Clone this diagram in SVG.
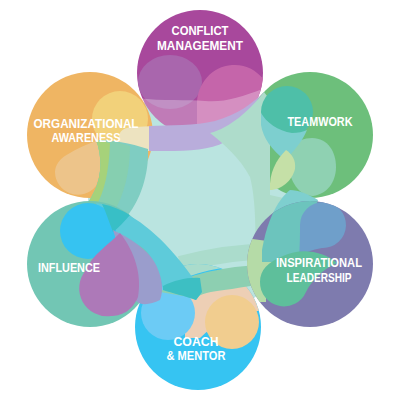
<svg xmlns="http://www.w3.org/2000/svg" width="400" height="400" viewBox="0 0 400 400">
<defs>
<style>
.lbl{font-family:"Liberation Sans",Arial,sans-serif;font-weight:bold;fill:#ffffff;font-size:12px;text-anchor:middle}
</style>
<clipPath id="cp-cm"><circle cx="200" cy="73" r="63"/></clipPath>
<clipPath id="cp-tw"><circle cx="310" cy="135" r="63"/></clipPath>
<clipPath id="cp-il"><circle cx="310" cy="264" r="63"/></clipPath>
<clipPath id="cp-co"><circle cx="198" cy="327" r="63"/></clipPath>
<clipPath id="cp-in"><circle cx="90" cy="264" r="63"/></clipPath>
<clipPath id="cp-oa"><circle cx="90" cy="135" r="63"/></clipPath>
</defs>
<rect width="400" height="400" fill="#ffffff"/>

<g id="center">
<circle cx="200" cy="200" r="112" fill="#bae4e0"/>
<path d="M180,264 Q240,248 300,252" fill="none" stroke="#abdccc" stroke-width="16"/>
</g>

<g id="node-oa">
<circle cx="90" cy="135" r="63" fill="#efb563"/>
<g clip-path="url(#cp-oa)">
<circle cx="120" cy="119" r="28" fill="#f2d17a"/>
<path d="M55,172 A23,23 0 0 0 96,186 C102,172 102,155 100,140 C92,142 80,147 70,153 C60,158 55,165 55,172 Z" fill="#edc48a"/>
<path d="M119,137 C119,131 124,127 135,127 L155,126 L155,151 L128,151 C122,151 119,145 119,137 Z" fill="#ede3c0"/>
</g>
<path d="M96,140 C102,155 102,175 95,190 C90,200 85,208 80,215 L128,215 C140,200 149,175 148,149 C130,143 112,140 96,140 Z" fill="#7fcdc2"/>
<path d="M96,140 C102,155 102,175 95,190 C90,200 85,208 80,215 L114,212 C124,195 130,172 130,146 C118,142 107,140 96,140 Z" fill="#86cfb0"/>
<path d="M96,140 C102,155 102,175 95,190 C90,200 85,208 80,215 L96,206 C104,193 109,172 110,143 Z" fill="#a6d27a"/>
<text class="lbl" x="86" y="128" textLength="105" lengthAdjust="spacingAndGlyphs">ORGANIZATIONAL</text>
<text class="lbl" x="86" y="142" textLength="69" lengthAdjust="spacingAndGlyphs">AWARENESS</text>
</g>

<g id="node-conflict">
<circle cx="200" cy="73" r="63" fill="#a8489c"/>
<g clip-path="url(#cp-cm)">
<ellipse cx="170" cy="82" rx="32" ry="27" fill="#a966ad"/>
<path d="M197,104 C197,84 212,66 232,65 C248,64 258,72 266,82 L266,125 L197,125 Z" fill="#c565aa"/>
<path d="M130,97 C160,102 185,99 205,101 C225,103 245,96 270,86 L270,140 L130,140 Z" fill="#ffffff" opacity="0.28"/>
</g>
<path d="M149,126 C170,125 195,126 215,121 C238,114 252,104 264,92 C258,110 245,130 225,142 C210,150 190,151 165,151 L149,151 Z" fill="#b9addb"/>
<text class="lbl" x="200" y="35" textLength="57" lengthAdjust="spacingAndGlyphs">CONFLICT</text>
<text class="lbl" x="200" y="50" textLength="86" lengthAdjust="spacingAndGlyphs">MANAGEMENT</text>
</g>

<g id="node-teamwork">
<circle cx="310" cy="135" r="63" fill="#6dbf7b"/>
<path d="M210,133 C230,128 250,110 264,92 L270,100 L270,195 L292,200 L292,266 L255,266 C256,235 256,200 250,177 C240,158 225,145 210,133 Z" fill="#aedccb"/>
<g clip-path="url(#cp-tw)">
<path d="M288,165 C286,150 296,138 312,138 C328,138 336,152 336,167 C336,182 327,194 313,196 C298,196 290,180 288,165 Z" fill="#8fd1b2"/>
<circle cx="287" cy="112" r="26" fill="#4ebfa8"/>
<path d="M261,113 C266,122 278,131 292,133 C298,133 303,132 307,130 C302,142 293,152 285,160 C272,150 263,138 261,125 Z" fill="#7dcfcf"/>
</g>
<path d="M286,150 C276,160 269,173 270,190 C281,190 292,181 295,169 C296,160 292,154 286,150 Z" fill="#c5e0a7"/>
<path d="M290,190 C280,198 268,215 262,250 L262,262 L300,262 L318,200 C308,194 298,190 290,190 Z" fill="#7ecfcf"/>
<text class="lbl" x="320" y="126" textLength="65" lengthAdjust="spacingAndGlyphs">TEAMWORK</text>
</g>

<g id="node-coach">
<circle cx="198" cy="327" r="63" fill="#36c4f2"/>
<g clip-path="url(#cp-co)">
<path d="M168,250 L275,250 L275,266 C250,264 222,267 203,272 C188,276 176,281 168,286 Z" fill="#aadccc"/>
<path d="M185,286 L265,280 L265,310 C240,312 215,322 200,338 L185,338 Z" fill="#edcfb5"/>
<circle cx="168" cy="313" r="27" fill="#6ccbf5"/>
<circle cx="232" cy="322" r="27" fill="#f1cd8f"/>
</g>
<path d="M160,292 C175,280 200,272 235,267 L290,262 L296,282 C275,283 255,285 232,289 C215,291 205,292 195,298 C183,296 172,294 160,292 Z" fill="#8dcfb1"/>
<text class="lbl" x="196" y="346" textLength="45" lengthAdjust="spacingAndGlyphs">COACH</text>
<text class="lbl" x="196" y="360" textLength="59" lengthAdjust="spacingAndGlyphs">&amp; MENTOR</text>
</g>

<g id="node-il">
<circle cx="310" cy="264" r="63" fill="#7e7bae"/>
<g clip-path="url(#cp-il)">
<path d="M245,238 L282,243 C270,262 266,280 266,302 L245,302 Z" fill="#b5dba7"/>
<path d="M290,190 C280,198 268,215 262,250 L262,262 L300,262 L318,200 C308,194 298,190 290,190 Z" fill="#6cc4bd"/>
<path d="M299,258 C300,245 300,235 300,225 A23,23 0 1 1 322,248 C312,250 304,252 299,258 Z" fill="#6f9fca"/>
<path d="M260,282 A24,24 0 0 0 306,292 C312,280 322,270 337,263 C322,250 300,248 283,256 C268,262 260,270 260,282 Z" fill="#5ebf9b"/>
</g>
<text class="lbl" x="319" y="267" textLength="86" lengthAdjust="spacingAndGlyphs">INSPIRATIONAL</text>
<text class="lbl" x="319" y="282" textLength="65" lengthAdjust="spacingAndGlyphs">LEADERSHIP</text>
</g>

<g id="node-influence">
<circle cx="90" cy="264" r="63" fill="#72c6b4"/>
<path d="M96,203 C120,206 150,225 175,255 C188,270 196,282 202,292 L196,300 C185,296 172,292 163,290 C160,270 150,252 140,246 C128,239 118,233 108,229 Z" fill="#5ecbda"/>
<g clip-path="url(#cp-in)">
<circle cx="88" cy="231" r="28" fill="#36c3f1"/>
<path d="M102,204 C112,206 122,210 130,215 C124,222 118,228 113,232 C109,222 106,212 102,204 Z" fill="#38bfc6"/>
</g>
<path d="M113,230 C128,237 150,250 157,267 C162,278 164,290 160,300 C150,305 140,306 135,300 Z" fill="#9a9dcc"/>
<path d="M120,233 C135,252 142,275 138,297 C132,312 120,316 111,316 A28,28 0 0 1 86,270 C92,255 108,245 120,233 Z" fill="#ad79b8"/>
<path d="M163,286 C175,280 188,277 200,278 L202,292 L196,300 C185,296 172,293 163,290 Z" fill="#3dbfc3"/>
<text class="lbl" x="69" y="272" textLength="62" lengthAdjust="spacingAndGlyphs">INFLUENCE</text>
</g>

<g id="connectors"></g>
</svg>
